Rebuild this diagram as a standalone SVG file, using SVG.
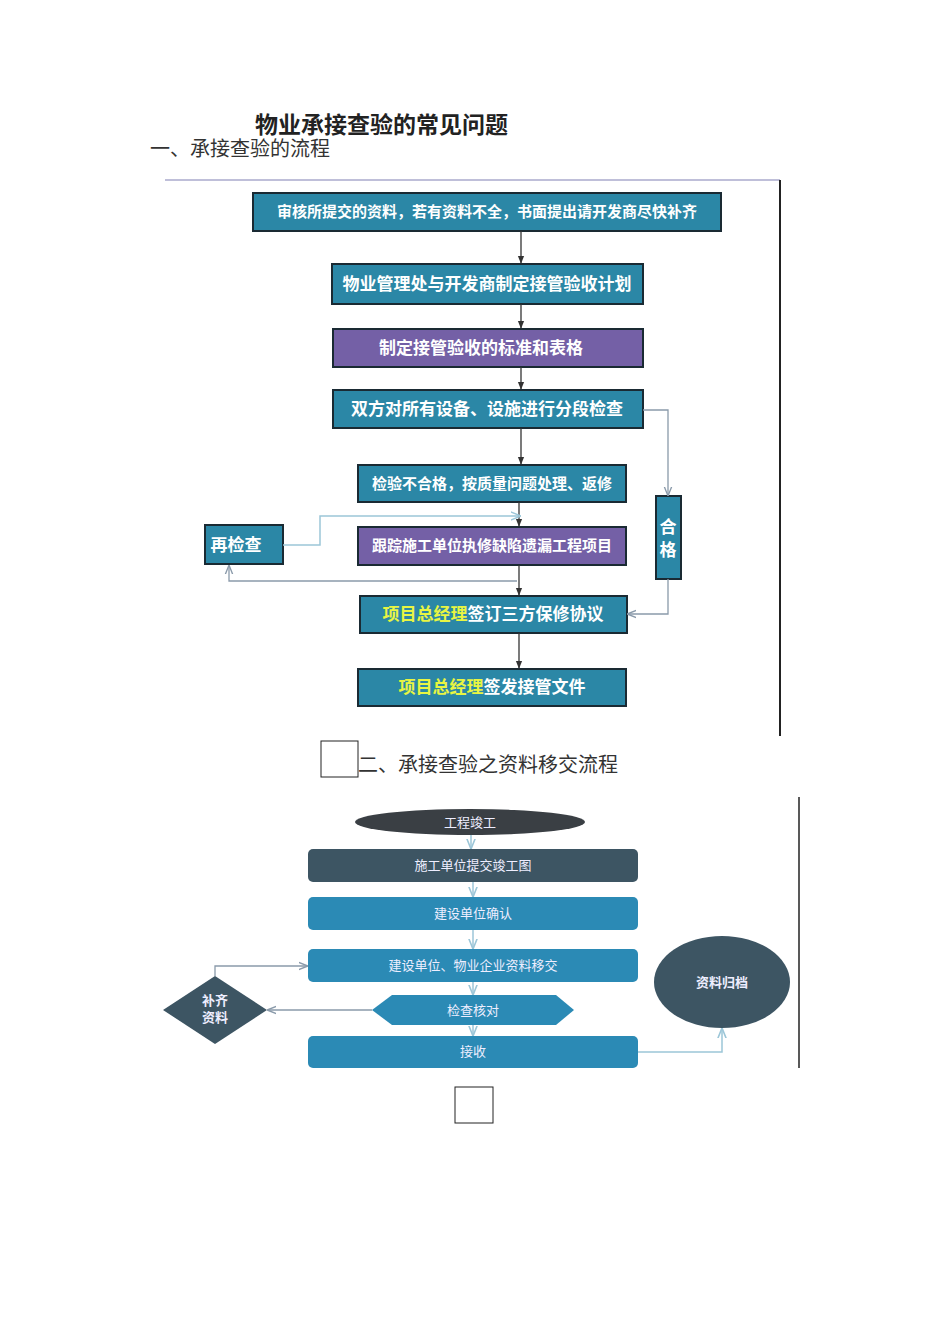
<svg xmlns="http://www.w3.org/2000/svg" width="950" height="1318" viewBox="0 0 950 1318">
<defs>
<style>
text{font-family:"Noto Sans CJK SC","Liberation Sans",sans-serif}
.t{fill:#2b87a6;stroke:#1a2a33;stroke-width:2}
.p{fill:#7460a6;stroke:#1a2a33;stroke-width:2}
.w{fill:#fff;font-size:17px;font-weight:bold;text-anchor:middle}
.s{font-size:15px}
.w2{fill:#eef;font-size:13px;text-anchor:middle}
.c{fill:none;stroke:#333;stroke-width:1.3}
.g{fill:none;stroke:#8a9aaa;stroke-width:1.3}
.b{fill:none;stroke:#9cc6d8;stroke-width:1.5}
.y{fill:#e8f542}
</style>
<marker id="a" viewBox="0 0 10 10" refX="9" refY="5" markerWidth="6" markerHeight="6" orient="auto"><path d="M0,1 L10,5 L0,9 z" fill="#333"/></marker>
<marker id="ag" viewBox="0 0 10 10" refX="9" refY="5" markerWidth="7" markerHeight="7" orient="auto"><path d="M0,1 L10,5 L0,9" fill="none" stroke="#8a9aaa" stroke-width="1.5"/></marker>
<marker id="ab" viewBox="0 0 10 10" refX="9" refY="5" markerWidth="7" markerHeight="7" orient="auto"><path d="M0,1 L10,5 L0,9" fill="none" stroke="#9cc6d8" stroke-width="1.5"/></marker>
</defs>
<rect width="950" height="1318" fill="#fff"/>
<text x="255" y="133" font-size="23" font-weight="bold" fill="#222">物业承接查验的常见问题</text>
<text x="150" y="156" font-size="20" fill="#333">一、承接查验的流程</text>
<line x1="165" y1="180" x2="780" y2="180" stroke="#aac" stroke-width="1.5"/>
<line x1="780" y1="180" x2="780" y2="736" stroke="#222" stroke-width="2"/>

<g id="n1"><rect class="t" x="253" y="193" width="468" height="38"/><text class="w s" x="487" y="217">审核所提交的资料，若有资料不全，书面提出请开发商尽快补齐</text></g>
<g id="n2"><rect class="t" x="332" y="264" width="311" height="40"/><text class="w" x="487" y="290">物业管理处与开发商制定接管验收计划</text></g>
<g id="n3"><rect class="p" x="333" y="329" width="310" height="38"/><text class="w" x="481" y="354">制定接管验收的标准和表格</text></g>
<g id="n4"><rect class="t" x="333" y="390" width="310" height="38"/><text class="w" x="487" y="415">双方对所有设备、设施进行分段检查</text></g>
<g id="n5"><rect class="t" x="358" y="465" width="268" height="37"/><text class="w s" x="492" y="489">检验不合格，按质量问题处理、返修</text></g>
<g id="n6"><rect class="p" x="358" y="527" width="268" height="38"/><text class="w s" x="492" y="551">跟踪施工单位执修缺陷遗漏工程项目</text></g>
<g id="n7"><rect class="t" x="360" y="596" width="267" height="37"/><text class="w" x="493" y="620"><tspan class="y">项目总经理</tspan>签订三方保修协议</text></g>
<g id="n8"><rect class="t" x="358" y="669" width="268" height="37"/><text class="w" x="492" y="693"><tspan class="y">项目总经理</tspan>签发接管文件</text></g>
<g id="n9"><rect class="t" x="205" y="525" width="78" height="39"/><text class="w" x="236" y="551">再检查</text></g>
<g id="n10"><rect class="t" x="656" y="496" width="25" height="83"/><text class="w" x="668" y="533">合</text><text class="w" x="668" y="556">格</text></g>

<g id="connectors1">
<line class="c" x1="521" y1="231" x2="521" y2="263" marker-end="url(#a)"/>
<line class="c" x1="521" y1="304" x2="521" y2="328" marker-end="url(#a)"/>
<line class="c" x1="521" y1="367" x2="521" y2="389" marker-end="url(#a)"/>
<line class="c" x1="521" y1="428" x2="521" y2="464" marker-end="url(#a)"/>
<line class="c" x1="519" y1="502" x2="519" y2="526" marker-end="url(#a)"/>
<line class="c" x1="519" y1="565" x2="519" y2="595" marker-end="url(#a)"/>
<line class="c" x1="519" y1="633" x2="519" y2="668" marker-end="url(#a)"/>
<polyline class="g" points="643,410 668,410 668,495" marker-end="url(#ag)"/>
<polyline class="g" points="668,579 668,614 628,614" marker-end="url(#ag)"/>
<polyline class="b" points="283,545 320,545 320,516 520,516" marker-end="url(#ab)"/>
<polyline class="g" points="517,581 229,581 229,566" marker-end="url(#ag)"/>
</g>

<rect x="321" y="741" width="37" height="36" fill="#fff" stroke="#222"/>
<text x="358" y="772" font-size="20" fill="#333">二、承接查验之资料移交流程</text>
<line x1="799" y1="797" x2="799" y2="1068" stroke="#222" stroke-width="1.5"/>

<g id="m1"><ellipse cx="470" cy="822" rx="115" ry="13" fill="#3a3f44"/><text class="w2" x="470" y="827">工程竣工</text></g>
<g id="m2"><rect x="308" y="849" width="330" height="33" rx="5" fill="#3d5563"/><text class="w2" x="473" y="870">施工单位提交竣工图</text></g>
<g id="m3"><rect x="308" y="897" width="330" height="33" rx="5" fill="#2b8ab5"/><text class="w2" x="473" y="918">建设单位确认</text></g>
<g id="m4"><rect x="308" y="949" width="330" height="33" rx="5" fill="#2b8ab5"/><text class="w2" x="473" y="970">建设单位、物业企业资料移交</text></g>
<g id="m5"><polygon points="372,1010 392,995 556,995 574,1010 556,1025 392,1025" fill="#2b8ab5"/><text class="w2" x="473" y="1015">检查核对</text></g>
<g id="m6"><rect x="308" y="1036" width="330" height="32" rx="5" fill="#2b8ab5"/><text class="w2" x="473" y="1056">接收</text></g>
<g id="m7"><polygon points="215,976 267,1010 215,1044 163,1010" fill="#3d5563"/><text class="w2" x="215" y="1005" font-size="11" font-weight="bold">补齐</text><text class="w2" x="215" y="1022" font-size="11" font-weight="bold">资料</text></g>
<g id="m8"><ellipse cx="722" cy="982" rx="68" ry="46" fill="#3d5563"/><text class="w2" x="722" y="987" font-weight="bold">资料归档</text></g>

<g id="connectors2">
<line class="b" x1="471" y1="835" x2="471" y2="848" marker-end="url(#ab)"/>
<line class="b" x1="473" y1="882" x2="473" y2="896" marker-end="url(#ab)"/>
<line class="b" x1="473" y1="930" x2="473" y2="948" marker-end="url(#ab)"/>
<line class="b" x1="473" y1="982" x2="473" y2="994" marker-end="url(#ab)"/>
<line class="b" x1="473" y1="1025" x2="473" y2="1035" marker-end="url(#ab)"/>
<polyline class="b" points="638,1052 722,1052 722,1029" marker-end="url(#ab)"/>
<line class="g" x1="372" y1="1010" x2="268" y2="1010" marker-end="url(#ag)"/>
<polyline class="g" points="215,976 215,966 307,966" marker-end="url(#ag)"/>
</g>
<rect x="455" y="1087" width="38" height="36" fill="#fff" stroke="#222"/>
</svg>
